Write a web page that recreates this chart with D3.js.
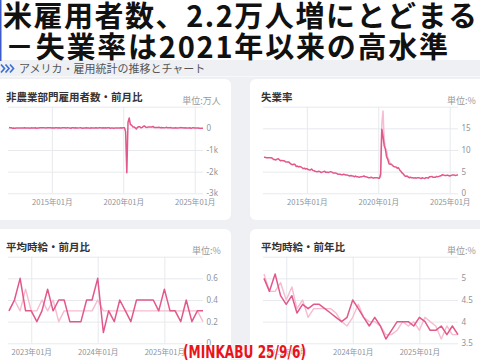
<!DOCTYPE html>
<html><head><meta charset="utf-8">
<script src="https://cdn.jsdelivr.net/npm/d3@7"></script>
<style>
html,body{margin:0;padding:0;width:480px;height:360px;overflow:hidden;background:#fff}
svg{display:block}
svg text{font-family:"Noto Sans CJK JP","Noto Sans",sans-serif}
</style></head><body>
<svg id="c" width="480" height="360"></svg>
<script>
// ---------- DATA ----------
const titleLine1 = "米雇用者数、2.2万人増にとどまる";
const titleLine2 = "－失業率は2021年以来の高水準";
const subHeader = "アメリカ・雇用統計の推移とチャート";
const footnote = "(MINKABU 25/9/6)";

const panelTitles = ["非農業部門雇用者数・前月比", "失業率", "平均時給・前月比", "平均時給・前年比"];
const panelUnits = ["単位:万人", "単位:%", "単位:%", "単位:%"];

const longStart = "2012-01";
// 非農業部門雇用者数・前月比 (万人)
const nfpValues = [
  36, 26, 24, 8, 11, 9, 16, 17, 18, 21, 17, 22,
  19, 28, 14, 19, 22, 18, 10, 24, 19, 21, 27, 5,
  19, 17, 27, 33, 23, 29, 23, 20, 28, 23, 32, 26,
  19, 27, 9, 31, 33, 18, 29, 16, 14, 32, 23, 27,
  15, 24, 22, 15, 4, 29, 30, 15, 25, 14, 16, 22,
  26, 20, 7, 20, 14, 24, 18, 22, 1, 26, 21, 18,
  18, 32, 18, 19, 27, 23, 16, 28, 12, 24, 15, 23,
  25, 6, 19, 21, 9, 17, 19, 21, 20, 18, 25, 18,
  31, 28, -150, -2049, 272, 478, 176, 149, 66, 68, 26, -27,
  52, 71, 70, 26, 45, 96, 109, 48, 42, 68, 65, 59,
  58, 90, 40, 38, 38, 37, 53, 32, 35, 29, 26, 22,
  47, 31, 24, 25, 34, 21, 19, 15, 30, 15, 19, 22,
  35, 27, 30, 18, 27, 21, 11, 14, 25, 1, 23, 26,
  14, 15, 12, 16, 2, -1, 8, 2
];
// 失業率 (%)
const unempValues = [
  8.3, 8.3, 8.2, 8.2, 8.2, 8.2, 8.2, 8.1, 7.8, 7.8, 7.7, 7.9,
  8.0, 7.7, 7.5, 7.6, 7.5, 7.5, 7.3, 7.2, 7.2, 7.2, 6.9, 6.7,
  6.6, 6.7, 6.7, 6.2, 6.3, 6.1, 6.2, 6.1, 5.9, 5.7, 5.8, 5.6,
  5.7, 5.5, 5.4, 5.4, 5.6, 5.3, 5.2, 5.1, 5.0, 5.0, 5.1, 5.0,
  4.8, 4.9, 5.0, 5.1, 4.8, 4.9, 4.8, 4.9, 5.0, 4.9, 4.7, 4.7,
  4.7, 4.6, 4.4, 4.4, 4.4, 4.3, 4.3, 4.4, 4.3, 4.2, 4.2, 4.1,
  4.0, 4.1, 4.0, 4.0, 3.8, 4.0, 3.8, 3.8, 3.7, 3.8, 3.8, 3.9,
  4.0, 3.8, 3.8, 3.7, 3.6, 3.6, 3.7, 3.6, 3.5, 3.6, 3.6, 3.6,
  3.5, 3.5, 4.4, 14.8, 13.2, 11.0, 10.2, 8.4, 7.8, 6.8, 6.7, 6.7,
  6.4, 6.2, 6.1, 6.1, 5.8, 5.9, 5.4, 5.1, 4.7, 4.5, 4.1, 3.9,
  4.0, 3.8, 3.6, 3.7, 3.6, 3.6, 3.5, 3.6, 3.5, 3.6, 3.6, 3.5,
  3.4, 3.6, 3.5, 3.4, 3.6, 3.6, 3.5, 3.8, 3.8, 3.9, 3.7, 3.7,
  3.7, 3.9, 3.8, 3.9, 4.0, 4.1, 4.3, 4.2, 4.1, 4.1, 4.2, 4.1,
  4.0, 4.1, 4.2, 4.2, 4.2, 4.1, 4.2, 4.3
];
// 失業率 予想 (2020)
const unempForecastStart = "2020-01";
const unempForecast = [3.5, 3.6, 3.8, 16.0, 19.0, 12.3, 10.5, 9.8, 8.2, 7.7, 6.8, 6.8];

const shortStart = "2022-09";
// 平均時給・前月比 (%)
const wageMoM = [
  0.3, 0.4, 0.6, 0.3,
  0.3, 0.2, 0.3, 0.5, 0.3, 0.4, 0.4, 0.2, 0.2, 0.2, 0.4, 0.4,
  0.6, 0.1, 0.3, 0.2, 0.4, 0.3, 0.2, 0.4, 0.4, 0.4, 0.4, 0.3,
  0.5, 0.3, 0.3, 0.2, 0.4, 0.2, 0.3, 0.3
];
const wageMoMForecast = [
  0.3, 0.4, 0.3, 0.5,
  0.3, 0.3, 0.4, 0.3, 0.4, 0.2, 0.3, 0.3, 0.3, 0.3, 0.3, 0.3,
  0.4, 0.3, 0.3, 0.3, 0.3, 0.3, 0.3, 0.3, 0.3, 0.3, 0.3, 0.3,
  0.3, 0.3, 0.3, 0.3, 0.3, 0.3, 0.3, 0.2
];
// 平均時給・前年比 (%)
const wageYoY = [
  5.0, 4.7, 5.1, 4.6,
  4.4, 4.6, 4.2, 4.4, 4.3, 4.4, 4.4, 4.3, 4.2, 4.1, 4.0, 4.1,
  4.5, 4.3, 4.1, 3.9, 4.1, 3.9, 3.6, 3.8, 4.0, 4.0, 4.0, 3.9,
  4.1, 4.0, 3.8, 3.8, 3.9, 3.7, 3.9, 3.7
];
const wageYoYForecast = [
  5.1, 4.7, 4.7, 4.9,
  4.5, 4.8, 4.3, 4.5, 4.1, 4.3, 4.3, 4.3, 4.3, 4.2, 4.0, 3.9,
  4.1, 4.4, 4.1, 4.0, 4.0, 3.9, 3.7, 3.7, 3.8, 4.0, 3.9, 4.0,
  3.8, 4.1, 4.0, 3.9, 3.6, 3.9, 3.7, 3.7
];

const nfpTicks = [1000, 0, -1000, -2000, -3000];
const nfpTickLabels = ["", "0", "-1k", "-2k", "-3k"];
const unempTicks = [20, 15, 10, 5, 0];
const unempTickLabels = ["", "15", "10", "5", "0"];
const momTicks = [0.8, 0.6, 0.4, 0.2, 0];
const momTickLabels = ["", "0.6", "0.4", "0.2", "0"];
const yoyTicks = [5.5, 5, 4.5, 4, 3.5];
const yoyTickLabels = ["", "5", "4.5", "4", "3.5"];
const longXTicks = ["2015-01", "2020-01", "2025-01"];
const shortXTicks = ["2023-01", "2024-01", "2025-01"];

// ---------- DRAW ----------
const svg = d3.select("#c");
const pm = d3.timeParse("%Y-%m");
const fmt = d3.timeFormat("%Y年%m月");
const series = (start, vals) => vals.map((v, i) => ({d: d3.timeMonth.offset(pm(start), i), v}));

const DARK = "#e2588b", LIGHT = "#f6bccf", GRID = "#e7e9ed", LABEL = "#8e939b";

// header
svg.append("rect").attr("x", 0).attr("y", 0).attr("width", 480).attr("height", 360).attr("fill", "#fff");
svg.append("rect").attr("x", 0).attr("y", 60).attr("width", 480).attr("height", 300).attr("fill", "#eef0f3");
svg.append("rect").attr("x", 0).attr("y", 76).attr("width", 480).attr("height", 1).attr("fill", "#f7f8f9");
svg.append("line").attr("x1", 0.75).attr("x2", 0.75).attr("y1", 0).attr("y2", 61)
  .attr("stroke", "#3d5cc9").attr("stroke-width", 1.5);
svg.append("text").attr("x", 3).attr("y", 27).attr("font-size", 29).attr("font-weight", 700)
  .attr("textLength", 474).attr("lengthAdjust", "spacing")
  .attr("fill", "#111").text(titleLine1);
svg.append("text").attr("x", 5).attr("y", 58).attr("font-size", 29).attr("font-weight", 700)
  .attr("textLength", 443).attr("lengthAdjust", "spacing")
  .attr("fill", "#111").text(titleLine2);
[0, 4.5, 9].forEach(dx => {
  svg.append("path").attr("d", `M${1 + dx},64.5 L${4.5 + dx},68.5 L${1 + dx},72.5`)
    .attr("fill", "none").attr("stroke", "#3f6fd3").attr("stroke-width", 1.7);
});
svg.append("text").attr("x", 19).attr("y", 72.5).attr("font-size", 11).attr("fill", "#555")
  .text(subHeader);

function panel(idx, dx, dy, domainStart, domainLen, lines, ticks, tickLabels, xTicks, cardH) {
  const g = svg.append("g").attr("transform", `translate(${dx},${dy})`);
  g.append("rect").attr("x", -5).attr("y", 79).attr("width", 236).attr("height", cardH)
    .attr("rx", 6).attr("fill", "#fff");
  const x = d3.scaleTime()
    .domain([pm(domainStart), d3.timeMonth.offset(pm(domainStart), domainLen - 1)])
    .range([9, 203]);
  const y = d3.scaleLinear().domain([ticks[ticks.length - 1], ticks[0]]).range([193.3, 106.7]);

  const ya = g.append("g").attr("transform", "translate(203,0)")
    .call(d3.axisRight(y).tickValues(ticks).tickSize(-195).tickPadding(3.5)
      .tickFormat((d, i) => tickLabels[i]));
  ya.select(".domain").remove();
  ya.selectAll("line").attr("stroke", GRID);
  ya.selectAll("text").attr("font-size", 8).attr("fill", LABEL)
    .style("font-family", "'Noto Sans', sans-serif");

  const xa = g.append("g").attr("transform", "translate(0,193.3)")
    .call(d3.axisBottom(x).tickValues(xTicks.map(pm)).tickSizeInner(-86.6).tickSizeOuter(0)
      .tickPadding(6).tickFormat(fmt));
  xa.select(".domain").remove();
  xa.selectAll("line").attr("stroke", GRID);
  xa.selectAll("text").attr("font-size", 7.6).attr("fill", LABEL);

  const line = d3.line().x(p => x(p.d)).y(p => y(p.v));
  lines.forEach(l => {
    g.append("path").datum(l.data).attr("d", line).attr("fill", "none")
      .attr("stroke", l.color).attr("stroke-width", l.w).attr("stroke-linejoin", "round");
  });

  g.append("text").attr("x", 6).attr("y", 100.5).attr("font-size", 10.5).attr("font-weight", 700)
    .attr("fill", "#333").text(panelTitles[idx]);
  g.append("text").attr("x", 220.7).attr("y", 103.5).attr("text-anchor", "end")
    .attr("font-size", 9).attr("fill", "#999").text(panelUnits[idx]);
}

panel(0, 0, 0, longStart, nfpValues.length,
  [{data: series(longStart, nfpValues), color: DARK, w: 1.5}],
  nfpTicks, nfpTickLabels, longXTicks, 141);
panel(1, 255, 0, longStart, unempValues.length,
  [{data: series(unempForecastStart, unempForecast), color: LIGHT, w: 1.5},
   {data: series(longStart, unempValues), color: DARK, w: 1.5}],
  unempTicks, unempTickLabels, longXTicks, 141);
panel(2, 0, 150, shortStart, wageMoM.length,
  [{data: series(shortStart, wageMoMForecast), color: LIGHT, w: 1.4},
   {data: series(shortStart, wageMoM), color: DARK, w: 1.5}],
  momTicks, momTickLabels, shortXTicks, 160);
panel(3, 255, 150, shortStart, wageYoY.length,
  [{data: series(shortStart, wageYoYForecast), color: LIGHT, w: 1.4},
   {data: series(shortStart, wageYoY), color: DARK, w: 1.5}],
  yoyTicks, yoyTickLabels, shortXTicks, 160);

svg.append("text").attr("x", 183).attr("y", 358).attr("font-size", 17.5).attr("font-weight", 700)
  .style("font-family", "'Liberation Sans Narrow','DejaVu Sans Condensed',sans-serif")
  .attr("textLength", 123).attr("lengthAdjust", "spacingAndGlyphs")
  .attr("fill", "#e8141c").attr("stroke", "#fff").attr("stroke-width", 1.2)
  .attr("paint-order", "stroke").text(footnote);
</script>
</body></html>
